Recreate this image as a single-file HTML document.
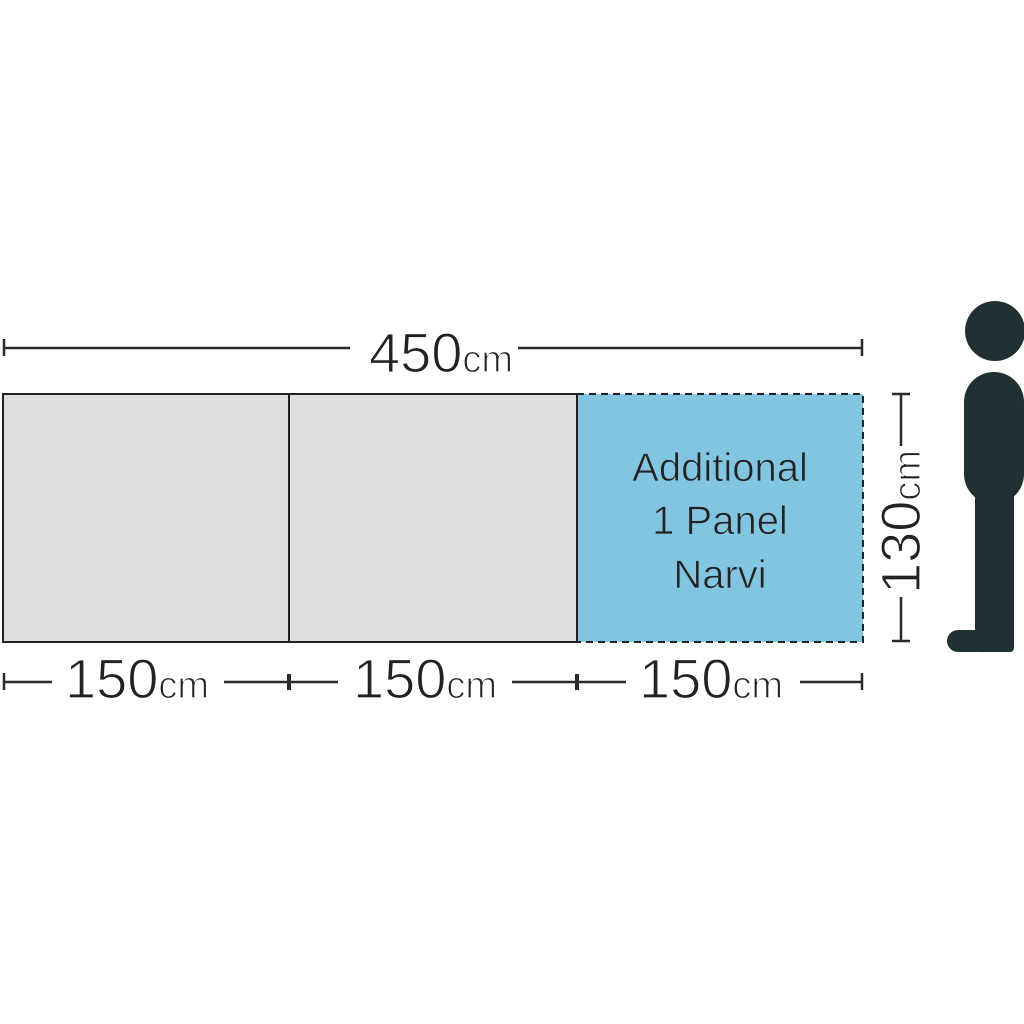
<!DOCTYPE html>
<html><head><meta charset="utf-8"><style>html,body{margin:0;padding:0;background:#fff}svg{display:block}</style></head>
<body>
<svg width="1024" height="1024" viewBox="0 0 1024 1024" xmlns="http://www.w3.org/2000/svg" font-family="Liberation Sans, sans-serif">
<rect width="1024" height="1024" fill="#fff"/>
<!-- panels -->
<rect x="3" y="394" width="286" height="248" fill="#dcdddf" stroke="#222" stroke-width="2"/>
<rect x="289" y="394" width="288" height="248" fill="#dcdddf" stroke="#222" stroke-width="2"/>
<rect x="577" y="394" width="286" height="248" fill="#82c5e0"/>
<path d="M577 394 H863 V642 H577" fill="none" stroke="#222" stroke-width="2" stroke-dasharray="7,5"/>
<line x1="577" y1="393" x2="577" y2="643" stroke="#222" stroke-width="2"/>
<g fill="#222" font-size="40" text-anchor="middle" stroke="#82c5e0" stroke-width="0.8">
<text x="720" y="481">Additional</text>
<text x="720" y="534">1 Panel</text>
<text x="720" y="588">Narvi</text>
</g>
<!-- top dimension -->
<g stroke="#2a2a2a" stroke-width="2.5">
<line x1="4" y1="348" x2="350" y2="348"/>
<line x1="518" y1="348" x2="862" y2="348"/>
<line x1="4" y1="339" x2="4" y2="356"/>
<line x1="862" y1="339" x2="862" y2="356"/>
</g>
<g fill="#222" stroke="#fff" stroke-width="1.2" text-anchor="middle">
<text x="441" y="372" font-size="56">450<tspan font-size="38">cm</tspan></text>
<text x="137" y="698" font-size="56">150<tspan font-size="38">cm</tspan></text>
<text x="425" y="698" font-size="56">150<tspan font-size="38">cm</tspan></text>
<text x="711" y="698" font-size="56">150<tspan font-size="38">cm</tspan></text>
<text transform="translate(920,522) rotate(-90)" font-size="56">130<tspan font-size="38">cm</tspan></text>
</g>
<!-- bottom dimension -->
<g stroke="#2a2a2a" stroke-width="2.5">
<line x1="4" y1="682" x2="52" y2="682"/>
<line x1="224" y1="682" x2="338" y2="682"/>
<line x1="512" y1="682" x2="626" y2="682"/>
<line x1="800" y1="682" x2="862" y2="682"/>
<line x1="4" y1="673" x2="4" y2="690"/>
<line x1="289" y1="674" x2="289" y2="690" stroke-width="4"/>
<line x1="577" y1="674" x2="577" y2="690" stroke-width="4"/>
<line x1="862" y1="673" x2="862" y2="690"/>
</g>
<!-- vertical dimension -->
<g stroke="#2a2a2a" stroke-width="2.5">
<line x1="901" y1="394" x2="901" y2="446"/>
<line x1="901" y1="597" x2="901" y2="641"/>
<line x1="892" y1="394" x2="910" y2="394"/>
<line x1="892" y1="641" x2="910" y2="641"/>
</g>
<!-- person -->
<g fill="#203134">
<circle cx="995" cy="331" r="30"/>
<rect x="964" y="372" width="60" height="132" rx="30"/>
<rect x="975" y="470" width="39" height="182" rx="4"/>
<rect x="947" y="630" width="40" height="22" rx="11"/>
</g>
</svg>
</body></html>
